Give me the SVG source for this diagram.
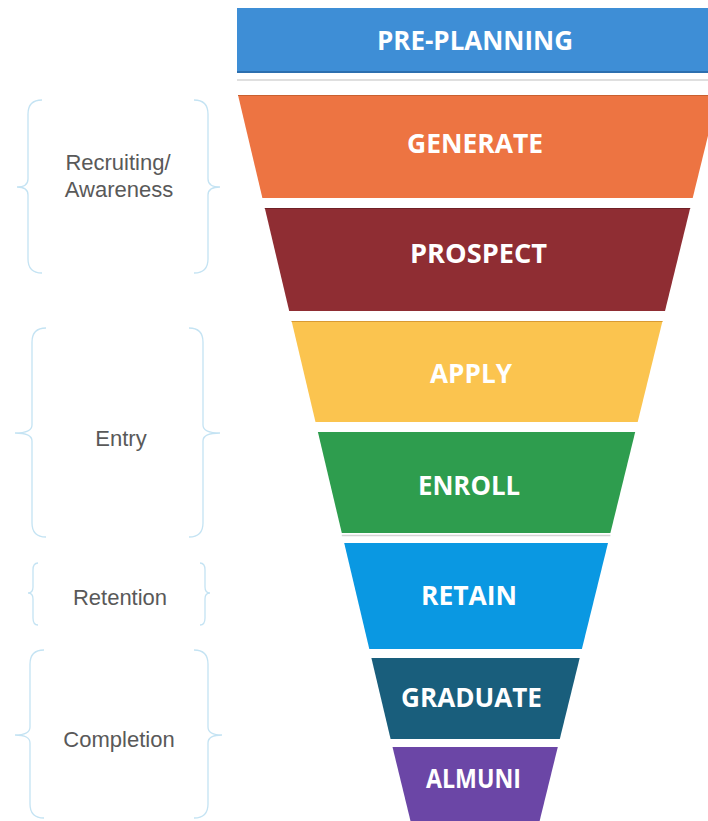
<svg xmlns="http://www.w3.org/2000/svg" width="708" height="821" viewBox="0 0 708 821">
  <style>
    .lbl { font-family: "Open Sans", "Liberation Sans", sans-serif; font-weight: 700; font-size: 26px; fill: #ffffff; text-anchor: middle; }
    .side { font-family: "Liberation Sans", Arial, sans-serif; font-size: 22px; fill: #595959; text-anchor: middle; }
    .brace { fill: none; stroke: #c4e3f3; stroke-width: 1.3; }
    .edge { fill: none; stroke-width: 1.5; }
    .shadow { stroke: #d4d4d4; stroke-width: 1.5; }
  </style>
  <rect width="708" height="821" fill="#ffffff"/>

  <g id="pre-planning">
    <rect x="237" y="8" width="480" height="65" fill="#3E8ED6"/>
    <line x1="237" y1="72" x2="717" y2="72" stroke="#2C6FAF" stroke-width="2"/>
    <line x1="237" y1="80" x2="708" y2="80" class="shadow"/>
    <text class="lbl" x="475" y="50" textLength="196" lengthAdjust="spacingAndGlyphs">PRE-PLANNING</text>
  </g>

  <g id="generate">
    <polygon points="238,95 718,95 692.7,198 262.4,198" fill="#ED7442"/>
    <line x1="238" y1="95.5" x2="718" y2="95.5" stroke="#C9602F" stroke-width="1"/>
    <text class="lbl" x="475" y="153" textLength="136" lengthAdjust="spacingAndGlyphs">GENERATE</text>
  </g>

  <g id="prospect">
    <polygon points="264.8,208 690.2,208 665,311 289.2,311" fill="#8F2D33"/>
    <line x1="264.8" y1="208.5" x2="690.2" y2="208.5" stroke="#6F2026" stroke-width="1"/>
    <text class="lbl" x="478.5" y="263" textLength="137" lengthAdjust="spacingAndGlyphs">PROSPECT</text>
  </g>

  <g id="apply">
    <polygon points="291.6,321 662.5,321 637.7,422 315.5,422" fill="#FBC44F"/>
    <line x1="291.6" y1="321.5" x2="662.5" y2="321.5" stroke="#D99A33" stroke-width="1"/>
    <text class="lbl" x="471" y="383" textLength="82" lengthAdjust="spacingAndGlyphs">APPLY</text>
  </g>

  <g id="enroll">
    <polygon points="317.9,432 635.2,432 610.4,533 341.8,533" fill="#2E9D4E"/>
    <line x1="341.8" y1="535.5" x2="610.4" y2="535.5" class="shadow"/>
    <text class="lbl" x="469" y="495" textLength="102" lengthAdjust="spacingAndGlyphs">ENROLL</text>
  </g>

  <g id="retain">
    <polygon points="344.2,543 608,543 581.9,649 369.3,649" fill="#0A98E2"/>
    <text class="lbl" x="469" y="605" textLength="96" lengthAdjust="spacingAndGlyphs">RETAIN</text>
  </g>

  <g id="graduate">
    <polygon points="371.4,658 579.7,658 559.8,739 390.6,739" fill="#195E7C"/>
    <text class="lbl" x="471.5" y="707" textLength="141" lengthAdjust="spacingAndGlyphs">GRADUATE</text>
  </g>

  <g id="almuni">
    <polygon points="392.5,747 557.8,747 537.4,830 412.7,830" fill="#6B46A6"/>
    <text class="lbl" x="473.5" y="788" textLength="95" lengthAdjust="spacingAndGlyphs">ALMUNI</text>
  </g>

  <g id="connectors">
    <g id="brace-recruiting">
      <path class="brace" d="M42,100 Q28,100 28,114 L28,179 Q28,187 17,187 Q28,187 28,195 L28,259 Q28,273 42,273"/>
      <path class="brace" d="M194,100 Q208,100 208,114 L208,179 Q208,187 220,187 Q208,187 208,195 L208,259 Q208,273 194,273"/>
    </g>
    <g id="brace-entry">
      <path class="brace" d="M46,328 Q32,328 32,342 L32,425 Q32,433 15,433 Q32,433 32,441 L32,523 Q32,537 46,537"/>
      <path class="brace" d="M189,328 Q203,328 203,342 L203,425 Q203,433 220,433 Q203,433 203,441 L203,523 Q203,537 189,537"/>
    </g>
    <g id="brace-retention">
      <path class="brace" d="M38,563 Q33,563 33,570 L33,587 Q33,593 28,593 Q33,593 33,599 L33,618 Q33,625 38,625"/>
      <path class="brace" d="M200,563 Q205,563 205,570 L205,587 Q205,593 210,593 Q205,593 205,599 L205,618 Q205,625 200,625"/>
    </g>
    <g id="brace-completion">
      <path class="brace" d="M44,650 Q30,650 30,664 L30,727 Q30,735 15,735 Q30,735 30,743 L30,804 Q30,818 44,818"/>
      <path class="brace" d="M194,650 Q208,650 208,664 L208,727 Q208,735 222,735 Q208,735 208,743 L208,804 Q208,818 194,818"/>
    </g>
  </g>

  <g id="recruiting">
    <text class="side" x="118" y="170">Recruiting/</text>
    <text class="side" x="119" y="197">Awareness</text>
  </g>
  <g id="entry">
    <text class="side" x="121" y="446">Entry</text>
  </g>
  <g id="retention">
    <text class="side" x="120" y="605">Retention</text>
  </g>
  <g id="completion">
    <text class="side" x="119" y="747">Completion</text>
  </g>
</svg>
